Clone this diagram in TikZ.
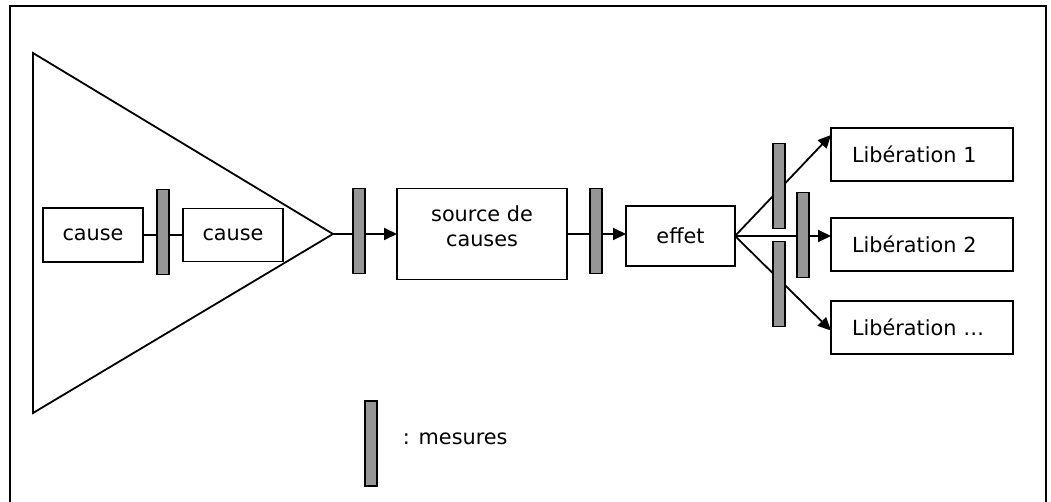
\documentclass[tikz,border=0pt]{standalone}
\usepackage{fontspec}
\setmainfont{DejaVu Sans}
\usetikzlibrary{positioning,arrows.meta,backgrounds}

\begin{document}
\begin{tikzpicture}[x=1pt,y=1pt,line width=1.8pt,
    font=\fontsize{20.8}{25}\selectfont,
    box/.style={draw,inner sep=0pt,outer sep=0pt},
    mes/.style={draw,fill=black!41,inner sep=0pt,outer sep=0pt,
      minimum width=12pt,minimum height=85pt},
    lib/.style={box,inner xsep=21pt,text width=140pt,align=left,minimum height=53pt},
    fl/.style={line width=1.8pt,-{Triangle[length=13pt,width=12pt]}}]
  \clip (0,0) rectangle (1051,-502);
  \draw (10,-6) rectangle (1046,-520);
  \draw (33,-53) -- (333,-234) -- (33,-413) -- cycle;
  \coordinate (tip) at (333,-234);

  \node [box,minimum width=100pt,minimum height=54pt] (c1) at (93,-235) {cause};
  \node [mes, right=14pt of c1, yshift=3pt] (m1) {};
  \node [box,minimum width=100pt,minimum height=53pt,
    right=14pt of m1, yshift=-3pt] (c2) {cause};
  \node [mes, right=20pt of tip, yshift=3pt] (m2) {};
  \node [box,minimum width=170pt,minimum height=91pt,align=center,
    right=32pt of m2, yshift=-3pt] (s) {source de\\causes\\[-9pt]~};
  \node [mes, right=23pt of s, yshift=3pt] (m3) {};
  \node [box,minimum width=109pt,minimum height=60pt,
    right=24pt of m3, yshift=-5pt] (e) {effet};
  \node [lib, right=96pt of e, yshift=-8.5pt] (l2) {Libération 2};
  \node [lib, above=37pt of l2] (l1) {Libération 1};
  \node [lib, below=30pt of l2] (l3) {Libération …};
  \node [mes, right=38pt of e, yshift=50pt] (m4) {};
  \node [mes, right=62pt of e, yshift=1pt] (m5) {};
  \node [mes, right=38pt of e, yshift=-48pt] (m6) {};

  \node [mes] (leg) at (371,-443.5) {};
  \node [inner sep=0pt, right=25pt of leg, yshift=5pt] (lt) {: mesures};

  \begin{scope}[on background layer]
    \draw [line width=1.8pt] (c1) -- (c2);
    \draw [fl] (tip) -- (s.west);
    \draw [fl] (s.east) -- (s.east -| e.west);
    \draw [fl] (e.east) -- ([yshift=-7pt]l1.north west);
    \draw [fl] (e.east) -- (e.east -| l2.west);
    \draw [fl] (e.east) -- ([yshift=-3pt]l3.west);
  \end{scope}
\end{tikzpicture}
\end{document}
